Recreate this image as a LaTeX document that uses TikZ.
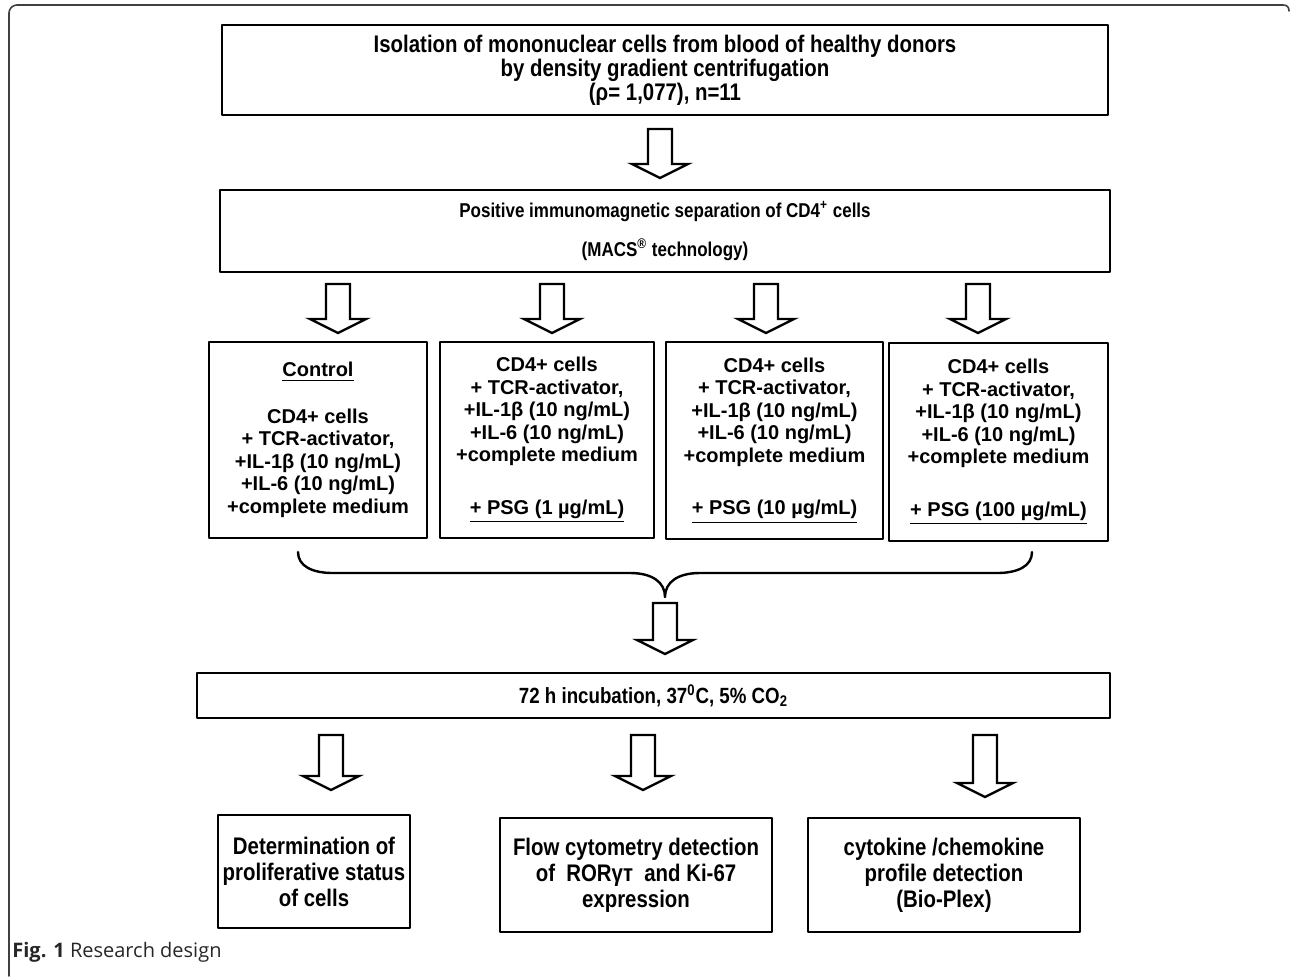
\documentclass[tikz,border=0pt]{standalone}
\usepackage{fontspec}
\setmainfont{Liberation Sans}
\newfontfamily\narrowfont[FakeStretch=0.85]{Liberation Sans}
\newfontfamily\capfont{Open Sans}
\usetikzlibrary{calc}

\tikzset{
    box/.style={draw, line width=1.2pt, inner sep=0pt, align=center},
    wide/.style={font=\narrowfont\bfseries\fontsize{12}{12}\selectfont},
    group/.style={font=\bfseries\fontsize{10}{11.25}\selectfont},
    fatarr/.style={draw, line width=1.2pt, line join=miter, fill=white}
}
% hollow block arrow from a top point down to its tip
\newcommand{\fatarrow}[2]{%
    \draw[fatarr] ($(#1)+(-12,0)$) -- ($(#1)+(12,0)$) -- ($(#2)+(12,-14)$) -- ($(#2)+(28,-14)$)
        -- (#2) -- ($(#2)+(-28,-14)$) -- ($(#2)+(-12,-14)$) -- cycle;}

\begin{document}
\begin{tikzpicture}[line cap=round,line join=round,x=0.5pt,y=-0.5pt]
    \useasboundingbox (0,0) rectangle (1290,976);
    % frame of the figure
    \draw [line width=0.8pt, black!75] (9,976) -- (9,13) arc (180:270:8) -- (1283,5)
        .. controls (1287,5) and (1289,7) .. (1289,11);

    % steps
    \node[box, wide, minimum width=443pt, minimum height=45pt] (iso) at (665,70)
        {Isolation of mononuclear cells from blood of healthy donors\\by density gradient centrifugation\\(ρ= 1,077), n=11};
    \node[box, minimum width=445pt, minimum height=41pt,
        font=\narrowfont\bfseries\fontsize{10}{19.5}\selectfont] (macs) at (665,231)
        {Positive immunomagnetic separation of CD4\textsuperscript{+} cells\\(MACS\textsuperscript{®} technology)};

    \node[box, group, minimum width=109pt, minimum height=98pt] (ctrl) at (318,440)
        {\underline{Control}\\[12pt]CD4+ cells\\+ TCR-activator,\\+IL-1β (10 ng/mL)\\+IL-6 (10 ng/mL)\\+complete medium};
    \node[box, group, minimum width=107pt, minimum height=98pt] (psga) at (547,440)
        {CD4+ cells\\+ TCR-activator,\\+IL-1β (10 ng/mL)\\+IL-6 (10 ng/mL)\\+complete medium\\[15pt]\underline{+ PSG (1 µg/mL)}};
    \node[box, group, minimum width=108.5pt, minimum height=98.5pt] (psgb) at (774.5,440.5)
        {CD4+ cells\\+ TCR-activator,\\+IL-1β (10 ng/mL)\\+IL-6 (10 ng/mL)\\+complete medium\\[15pt]\underline{+ PSG (10 µg/mL)}};
    \node[box, group, minimum width=109.5pt, minimum height=99pt] (psgc) at (998.5,442)
        {CD4+ cells\\+ TCR-activator,\\+IL-1β (10 ng/mL)\\+IL-6 (10 ng/mL)\\+complete medium\\[15pt]\underline{+ PSG (100 µg/mL)}};

    \node[box, minimum width=456.5pt, minimum height=22.5pt,
        font=\narrowfont\bfseries\fontsize{11}{12}\selectfont] (inc) at (653.5,695.5)
        {72 h incubation, 37\textsuperscript{0}C, 5\% CO\textsubscript{2}};

    \node[box, wide, font=\narrowfont\bfseries\fontsize{12}{13}\selectfont,
        minimum width=96pt, minimum height=56.5pt] (prolif) at (314,871.5)
        {Determination of\\proliferative status\\of cells};
    \node[box, wide, font=\narrowfont\bfseries\fontsize{12}{13}\selectfont,
        minimum width=136pt, minimum height=57pt] (flow) at (636,875)
        {Flow cytometry detection\\of~ RORγт~ and Ki-67\\expression};
    \node[box, wide, font=\narrowfont\bfseries\fontsize{12}{13}\selectfont,
        minimum width=136pt, minimum height=57pt] (cyto) at (944,875)
        {cytokine /chemokine\\profile detection\\(Bio-Plex)};

    % brace that joins the four groups
    \coordinate (bl) at (298,552);
    \coordinate (bm) at (665,597);
    \coordinate (br) at (1032,552);
    \draw [line width=1.2pt] (bl) .. controls (298,566) and (312,573) .. (333,573) -- (630,573)
        .. controls (652,573) and (665,582) .. (bm)
        .. controls (665,582) and (678,573) .. (700,573) -- (997,573)
        .. controls (1018,573) and (1032,566) .. (br);

    % arrows
    \coordinate (t0) at (660,129);  \coordinate (h0) at (660,178);
    \fatarrow{t0}{h0}
    \foreach \n/\x in {1/338,2/552,3/766,4/978} {
        \coordinate (t\n) at (\x,284);  \coordinate (h\n) at (\x,333);
        \fatarrow{t\n}{h\n}
    }
    \coordinate (t5) at (665,603);  \coordinate (h5) at (665,654);
    \fatarrow{t5}{h5}
    \foreach \n/\x/\y in {6/331/790,7/643/790,8/985/797} {
        \coordinate (t\n) at (\x,735);  \coordinate (h\n) at (\x,\y);
        \fatarrow{t\n}{h\n}
    }

    % caption
    \node[anchor=base west, inner sep=0pt, font=\capfont\fontsize{10}{11}\selectfont, text=black!85] (cap) at (12,957)
        {\textbf{Fig. 1} Research design};
\end{tikzpicture}
\end{document}
